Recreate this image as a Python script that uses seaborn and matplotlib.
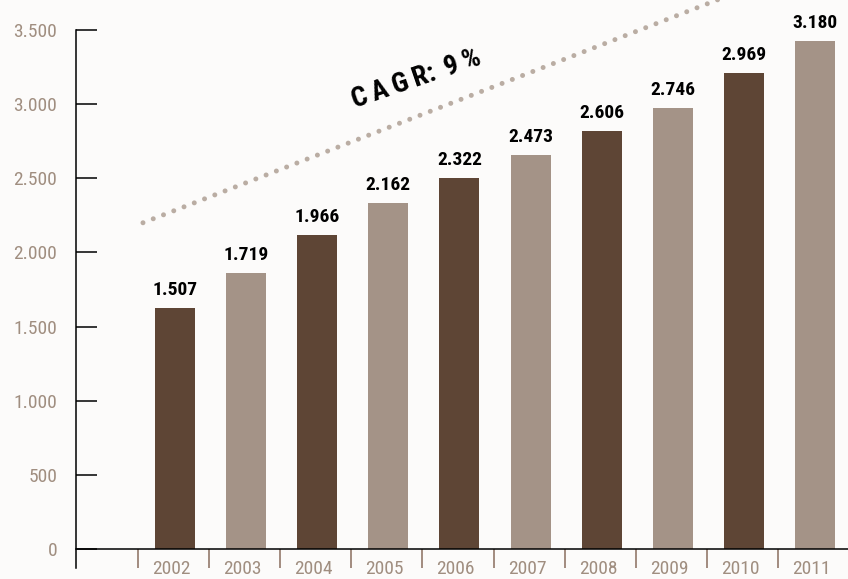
import matplotlib.pyplot as plt
import seaborn as sns

years = ['2002', '2003', '2004', '2005', '2006', '2007', '2008', '2009', '2010', '2011']
# bar heights as drawn on the axis scale, and the printed value labels
bar_values = [1622, 1858, 2115, 2331, 2500, 2657, 2818, 2973, 3209, 3426]
value_labels = ['1.507', '1.719', '1.966', '2.162', '2.322', '2.473', '2.606', '2.746', '2.969', '3.180']
y_ticks = [0, 500, 1000, 1500, 2000, 2500, 3000, 3500]
y_tick_labels = ['0', '500', '1.000', '1.500', '2.000', '2.500', '3.000', '3.500']
trend_x = [-0.45, 8.0]
trend_y = [2200, 3772]

dark = '#5e4535'
light = '#a49387'
grey_text = '#a08e80'
bg = '#fcfbfa'

sns.set_style('white')
plt.rcParams['font.family'] = ['DejaVu Sans Condensed', 'Roboto Condensed', 'Liberation Sans Narrow', 'DejaVu Sans']
plt.rcParams['font.stretch'] = 'condensed'

fig = plt.figure(figsize=(8.48, 5.79), dpi=100, facecolor=bg)
ax = fig.add_axes([76 / 848, 0, 772 / 848, 1])
ax.set_facecolor(bg)

colors = [dark if i % 2 == 0 else light for i in range(len(years))]
sns.barplot(x=years, y=bar_values, hue=years, palette=colors, legend=False,
            width=0.5625, saturation=1, linewidth=0, ax=ax)

ax.set_xlim(-1.392, 9.465)
ax.set_ylim(-202, 3702)

# value labels above bars
for i, lab in enumerate(value_labels):
    ax.annotate(lab, (i, bar_values[i]), xytext=(0, 9.5), textcoords='offset points',
                ha='center', va='baseline', fontsize=14, fontweight='bold', color='black')

# dotted CAGR trend line
ax.plot(trend_x, trend_y, color='#baada3', lw=3.6, ls=(0, (0.001, 2.2)),
        dash_capstyle='round', clip_on=True)
ax.text(3.39, 3173, 'C\u2009A\u2009G\u2009R:\u2009\u20099\u2009%', rotation=19, ha='center', va='center',
        fontsize=20, fontweight='bold', color='black', rotation_mode='anchor')

# axes styling
for s in ['top', 'right']:
    ax.spines[s].set_visible(False)
ax.spines['left'].set_bounds(-128, 3500)
ax.spines['left'].set_color('black')
ax.spines['left'].set_linewidth(1.1)
ax.spines['bottom'].set_position(('data', 0))
ax.spines['bottom'].set_color('black')
ax.spines['bottom'].set_linewidth(1.1)

ax.set_yticks(y_ticks, y_tick_labels)
ax.tick_params(axis='y', left=True, direction='in', length=15, width=1.1, color='black',
               pad=13.5, labelsize=14, labelcolor=grey_text)

seps = [i - 0.52 for i in range(len(years))]
ax.set_xticks(seps, [''] * len(seps))
ax.set_xticks([i - 0.05 for i in range(len(years))], years, minor=True)
ax.tick_params(axis='x', which='major', bottom=True, direction='out', length=13.7, width=1.1, color='#8a6e5e')
ax.tick_params(axis='x', which='minor', bottom=True, length=0, pad=8, labelsize=14, labelcolor=grey_text)
ax.set_xlabel('')
ax.set_ylabel('')

fig.savefig('out.png', dpi=100, facecolor=bg)
